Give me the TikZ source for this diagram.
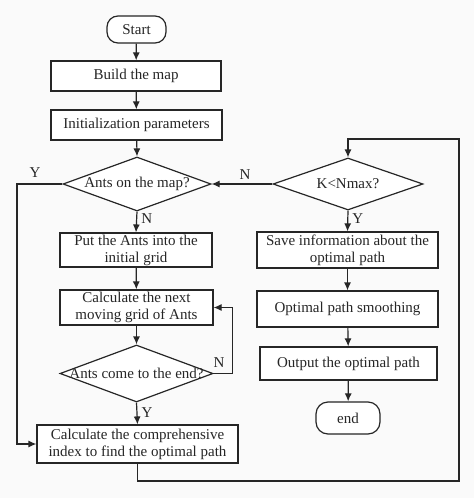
\documentclass[tikz,border=0pt]{standalone}
\usepackage{fontspec}
\setmainfont{Liberation Serif}
\usetikzlibrary{shapes.geometric,arrows.meta}
\begin{document}
\begin{tikzpicture}[x=1pt,y=-1pt,
  every node/.style={font=\fontsize{15}{17}\selectfont, text=black!85},
  box/.style={draw=black!85, line width=1.2pt, fill=white, inner sep=0pt, align=center},
  term/.style={box, rounded corners=11pt},
  dia/.style={draw=black!85, line width=1.2pt, fill=white, diamond, inner sep=0pt},
  arr/.style={draw=black!85, line width=1.2pt, -{Latex[length=8pt,width=7pt]}},
  lab/.style={inner sep=1pt}
]
\fill[black!2] (0,0) rectangle (474,498);
\useasboundingbox (0,0) rectangle (474,498);

\node[term, minimum width=59pt, minimum height=27pt] (start) at (136.5,29.5) {Start};
\node[box, minimum width=170pt, minimum height=30pt] (build) at (136,76) {Build the map};
\node[box, minimum width=171pt, minimum height=30pt] (init) at (136.5,125) {Initialization parameters};
\node[dia, minimum width=148pt, minimum height=54pt] (d1) at (137,184) {};
\node (d1t) at (d1) {Ants on the map?};
\node[box, minimum width=152pt, minimum height=34pt] (put) at (136,250) {Put the Ants into the\\initial grid};
\node[box, minimum width=153pt, minimum height=35pt] (next) at (136.5,307.5) {Calculate the next\\moving grid of Ants};
\node[dia, minimum width=153pt, minimum height=57pt] (d3) at (136.5,373.5) {};
\node (d3t) at (d3) {Ants come to the end?};
\node[box, minimum width=201pt, minimum height=38pt] (calc) at (137.5,444) {Calculate the comprehensive\\index to find the optimal path};

\node[dia, minimum width=150pt, minimum height=52pt] (d2) at (348,184) {};
\node (d2t) at (d2) {K<Nmax?};
\node[box, minimum width=181pt, minimum height=36pt] (save) at (347.5,250) {Save information about the\\optimal path};
\node[box, minimum width=181pt, minimum height=36pt] (smooth) at (347.5,309) {Optimal path smoothing};
\node[box, minimum width=177pt, minimum height=33pt] (out) at (348.5,363.5) {Output the optimal path};
\node[term, minimum width=64pt, minimum height=32pt, rounded corners=12pt] (end) at (348,418) {end};

\coordinate (lx) at (17,184);
\coordinate (c1) at (459,481);
\coordinate (c2) at (459,139);

\draw[arr] (start) -- (build);
\draw[arr] (build) -- (init);
\draw[arr] (init) -- (d1.north);
\draw[arr] (d1.south) -- node[lab, right, pos=0.35, xshift=3pt] {N} (put.north);
\draw[arr] (d1.west) -- (lx) |- (calc.west);
\node[lab] (ly) at (35,173) {Y};
\draw[arr] (d2.west) -- (d1.east);
\node[lab] (ln1) at (245,175) {N};
\draw[arr] (put) -- (next);
\draw[arr] (next) -- (d3.north);
\draw[arr] (d3.east) -- ++(19,0) |- (next.east);
\node[lab] (ln3) at (219,363) {N};
\draw[arr] (d3.south) -- node[lab, right, pos=0.45, xshift=3pt] {Y} (calc.north);
\draw[arr] (calc.south) |- (c1) -- (c2) -| (d2.north);
\draw[arr] (d2.south) -- node[lab, right, pos=0.4, xshift=3pt] {Y} (save.north);
\draw[arr] (save) -- (smooth);
\draw[arr] (smooth) -- (out);
\draw[arr] (out) -- (end);
\end{tikzpicture}
\end{document}
